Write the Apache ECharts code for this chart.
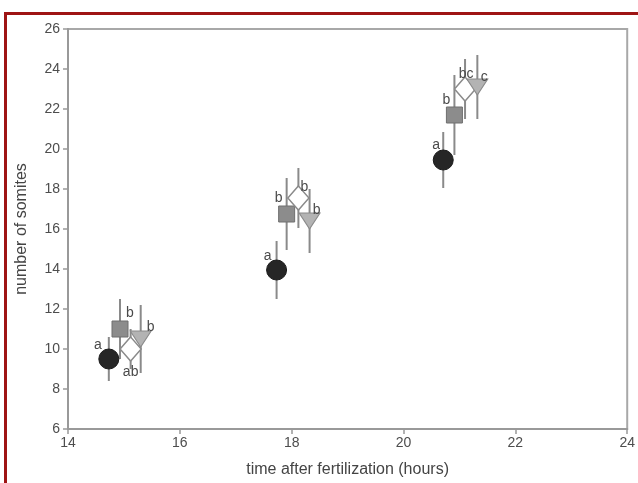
<!DOCTYPE html>
<html>
<head>
<meta charset="utf-8">
<script src="https://cdn.jsdelivr.net/npm/echarts@6/dist/echarts.min.js"></script>
<style>
  html, body { margin: 0; padding: 0; background: #fff; }
  #chart { width: 638px; height: 483px; }
</style>
</head>
<body>
<div id="chart"></div>
<script>
// Somite counts (mean and spread) at three sampling times, four groups
const circleX = [14.73, 17.73, 20.71];
const circleY = [9.5, 13.95, 19.45];
const circleErr = [1.1, 1.45, 1.4];
const circleLetters = ['a', 'a', 'a'];

const squareX = [14.93, 17.91, 20.91];
const squareY = [11.0, 16.75, 21.7];
const squareErr = [1.5, 1.8, 2.0];
const squareLetters = ['b', 'b', 'b'];

const diamondX = [15.12, 18.12, 21.1];
const diamondY = [10.0, 17.55, 23.0];
const diamondErr = [1.0, 1.5, 1.5];
const diamondLetters = ['ab', 'b', 'bc'];

const triangleX = [15.3, 18.32, 21.32];
const triangleY = [10.5, 16.4, 23.1];
const triangleErr = [1.7, 1.6, 1.6];
const triangleLetters = ['b', 'b', 'c'];

const xTicks = [14, 16, 18, 20, 22, 24];
const yTicks = [6, 8, 10, 12, 14, 16, 18, 20, 22, 24, 26];

// label placement around each marker (pixels from the marker centre)
const circleLabelOffsets = [[-11, -14], [-9, -14], [-7, -15]];
const squareLabelOffsets = [[10, -16], [-8, -16], [-8, -15]];
const diamondLabelOffsets = [[0, 23], [6, -11], [1, -15]];
const triangleLabelOffsets = [[10, -12], [7, -11], [7, -10]];

const font = 'Liberation Sans, Arial, sans-serif';
const errColor = '#8a8a8a';

function errorSeries(xs, ys, errs) {
  return {
    type: 'custom',
    z: 1,
    silent: true,
    data: xs.map((x, i) => [x, ys[i] - errs[i], ys[i] + errs[i]]),
    renderItem: function (params, api) {
      const lo = api.coord([api.value(0), api.value(1)]);
      const hi = api.coord([api.value(0), api.value(2)]);
      return {
        type: 'line',
        shape: { x1: lo[0], y1: lo[1], x2: hi[0], y2: hi[1] },
        style: { stroke: errColor, lineWidth: 2 }
      };
    }
  };
}

function markerSeries(xs, ys, letters, offsets, symbol, size, style, rotate) {
  return {
    type: 'scatter',
    z: 3,
    symbol: symbol,
    symbolSize: size,
    symbolRotate: rotate || 0,
    itemStyle: Object.assign({ opacity: 1 }, style),
    data: xs.map((x, i) => ({
      value: [x, ys[i]],
      label: {
        show: true,
        formatter: letters[i],
        position: 'inside',
        offset: offsets[i],
        color: '#4a4a4a',
        fontSize: 14,
        fontFamily: font,
        rotate: 0
      }
    }))
  };
}

const chart = echarts.init(document.getElementById('chart'));
chart.setOption({
  backgroundColor: '#ffffff',
  animation: false,
  grid: {
    left: 68, right: 10, top: 29, bottom: 54,
    show: true, borderColor: '#a8a8a8', borderWidth: 2, backgroundColor: 'transparent'
  },
  xAxis: {
    type: 'value', min: 14, max: 24, interval: 2,
    name: 'time after fertilization (hours)',
    nameLocation: 'middle', nameGap: 33,
    nameTextStyle: { fontFamily: font, fontSize: 16, color: '#444' },
    axisLine: { show: true, lineStyle: { color: '#999', width: 2 } },
    axisTick: { show: true, length: 5, lineStyle: { color: '#999', width: 1.5 } },
    axisLabel: {
      fontFamily: font, fontSize: 14, color: '#4d4d4d', margin: 7,
      formatter: v => (xTicks.includes(v) ? String(v) : '')
    },
    splitLine: { show: false }
  },
  yAxis: {
    type: 'value', min: 6, max: 26, interval: 2,
    name: 'number of somites',
    nameLocation: 'middle', nameGap: 38,
    nameTextStyle: { fontFamily: font, fontSize: 16, color: '#444' },
    axisLine: { show: true, lineStyle: { color: '#999', width: 2 } },
    axisTick: { show: true, length: 5, lineStyle: { color: '#999', width: 1.5 } },
    axisLabel: {
      fontFamily: font, fontSize: 14, color: '#4d4d4d', margin: 8,
      formatter: v => (yTicks.includes(v) ? String(v) : '')
    },
    splitLine: { show: false }
  },
  graphic: [{
    type: 'rect',
    z: 100,
    silent: true,
    shape: { x: 5.5, y: 13.5, width: 700, height: 600 },
    style: { fill: 'none', stroke: '#9e1414', lineWidth: 3 }
  }],
  series: [
    errorSeries(circleX, circleY, circleErr),
    errorSeries(squareX, squareY, squareErr),
    errorSeries(diamondX, diamondY, diamondErr),
    errorSeries(triangleX, triangleY, triangleErr),
    markerSeries(squareX, squareY, squareLetters, squareLabelOffsets, 'rect', 16,
      { color: '#8c8c8c', borderColor: '#6e6e6e', borderWidth: 1 }),
    markerSeries(diamondX, diamondY, diamondLetters, diamondLabelOffsets, 'diamond', [21, 24],
      { color: '#ffffff', borderColor: '#8a8a8a', borderWidth: 1.5 }),
    markerSeries(triangleX, triangleY, triangleLetters, triangleLabelOffsets, 'triangle', [21, 16],
      { color: '#b3b3b3', borderColor: '#8a8a8a', borderWidth: 1 }, 180),
    markerSeries(circleX, circleY, circleLetters, circleLabelOffsets, 'circle', 20,
      { color: '#262626', borderColor: '#1a1a1a', borderWidth: 1 })
  ]
});
</script>
</body>
</html>
